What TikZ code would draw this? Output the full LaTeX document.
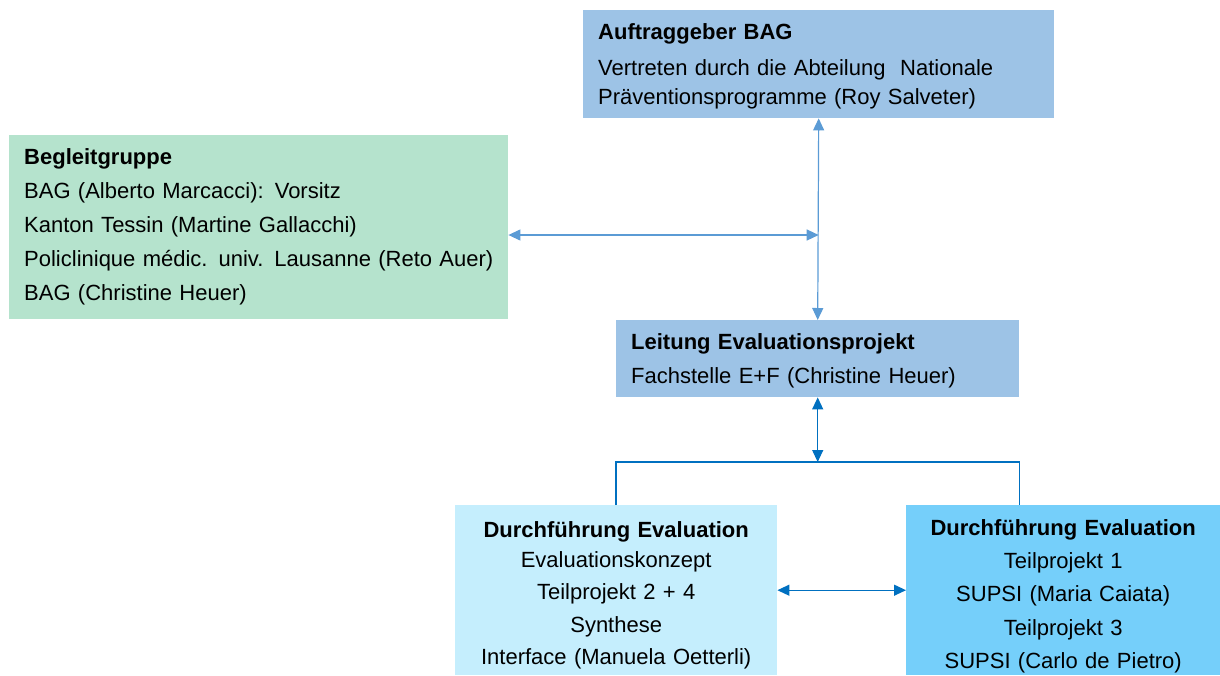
\documentclass[tikz,border=0pt]{standalone}
\usepackage{fontspec}
\setmainfont{Liberation Sans}
\usetikzlibrary{positioning,arrows.meta}
\definecolor{bagblue}{HTML}{9DC3E6}
\definecolor{groupgreen}{HTML}{B5E3CD}
\definecolor{evalcyan}{HTML}{C5EEFD}
\definecolor{evalblue}{HTML}{75CFFA}
\definecolor{arrlight}{HTML}{5B9BD5}
\definecolor{arrdark}{HTML}{0070C0}

\begin{document}
\begin{tikzpicture}[
  x=1pt,y=1pt,
  box/.style={anchor=north west,inner xsep=15pt,inner ysep=0pt,
    font=\fontsize{22}{29}\selectfont},
  arr/.style={{Triangle[length=12pt,width=11pt]}-{Triangle[length=12pt,width=11pt]},line width=1.2pt}
]
\useasboundingbox (0,0) rectangle (1220,-675);
\node[box,fill=bagblue,text width=441pt,minimum height=108pt,align=left] (auftrag) at (583,-10)
  {\rule{0pt}{21pt}\textbf{Auftraggeber BAG}\\[7pt]Vertreten durch die Abteilung\ \ Nationale\\Präventionsprogramme (Roy Salveter)};
\node[box,fill=groupgreen,text width=469pt,minimum height=184pt,align=left,
  font=\fontsize{22}{34}\selectfont] (begleit) at (9,-135)
  {\textbf{Begleitgruppe}\\BAG (Alberto Marcacci): Vorsitz\\Kanton Tessin (Martine Gallacchi)\\\mbox{Policlinique médic. univ. Lausanne (Reto Auer)}\\BAG (Christine Heuer)};
\node[box,fill=bagblue,text width=373pt,minimum height=77pt,align=left,
  font=\fontsize{22}{34}\selectfont] (leitung) at (616,-320)
  {\rule{0pt}{21pt}\textbf{Leitung Evaluationsprojekt}\\Fachstelle E+F (Christine Heuer)};
\node[box,fill=evalcyan,text width=292pt,minimum height=170pt,align=center,
  font=\fontsize{22}{32.25}\selectfont] (links) at (455,-505)
  {\rule{0pt}{26pt}\textbf{Durchführung Evaluation}\\[-2pt]Evaluationskonzept\\Teilprojekt 2 + 4\\Synthese\\Interface (Manuela Oetterli)};
\node[box,fill=evalblue,text width=284pt,minimum height=170pt,align=center,
  font=\fontsize{22}{33.25}\selectfont] (rechts) at (906,-505)
  {\rule{0pt}{28pt}\textbf{Durchführung Evaluation}\\Teilprojekt 1\\SUPSI (Maria Caiata)\\Teilprojekt 3\\SUPSI (Carlo de Pietro)};
\coordinate (level) at (0,-235);
\coordinate (split) at (0,-462);
\coordinate (cross) at (auftrag.south |- level);
\coordinate (bar) at (leitung.south |- split);
\draw[arr,arrlight] (auftrag.south) -- (leitung.north);
\draw[arr,arrlight] (begleit.east |- cross) -- (cross);
\draw[arr,arrdark] (leitung.south) -- (bar);
\draw[arrdark,line width=1.2pt] (links.north -| leitung.south west) |- (bar) -| (rechts.north -| leitung.south east);
\draw[arr,arrdark] (links.east) -- (rechts.west);
\end{tikzpicture}
\end{document}
